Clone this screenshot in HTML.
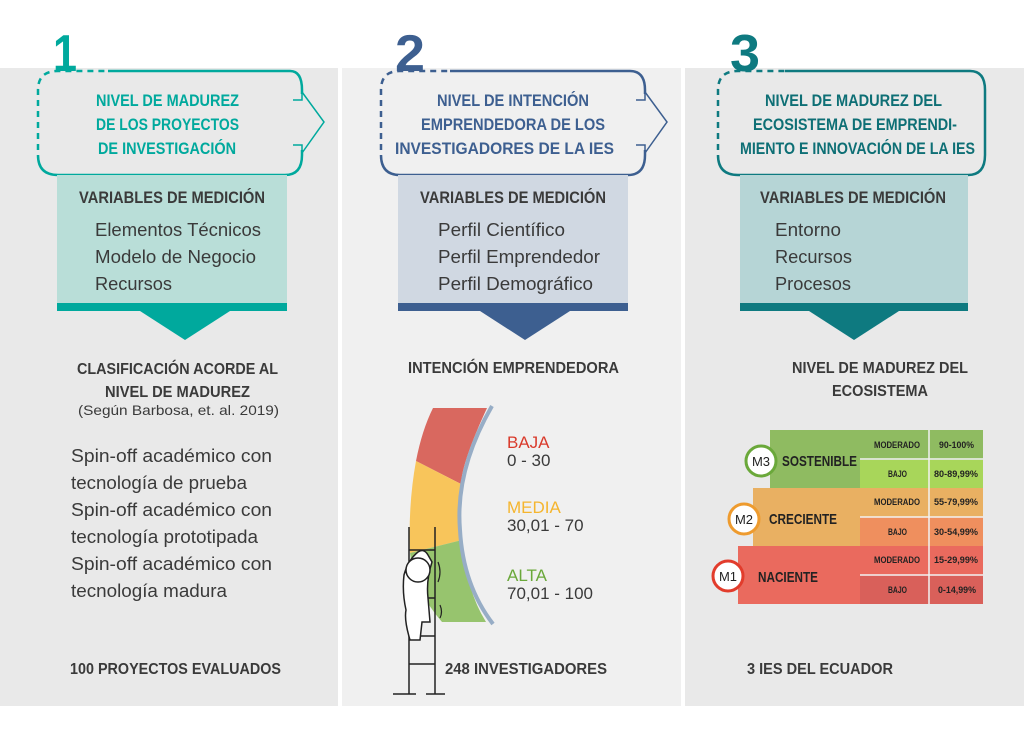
<!DOCTYPE html>
<html><head><meta charset="utf-8"><style>
html,body{margin:0;padding:0;background:#fff}
svg{display:block}
.n{font-family:"Liberation Sans",sans-serif;font-weight:bold}
.m{font-family:"Liberation Sans",sans-serif;font-weight:bold}
.r{font-family:"Liberation Sans",sans-serif}
</style></head><body>
<svg width="1024" height="744" viewBox="0 0 1024 744" xmlns="http://www.w3.org/2000/svg">
<rect x="0" y="68" width="338" height="638" fill="#e9e9e9"/>
<rect x="342" y="68" width="339" height="638" fill="#f0f0f0"/>
<rect x="685" y="68" width="339" height="638" fill="#e9e9e9"/>

<!-- Column 1 -->
<text x="53" y="71" class="n" font-size="52" fill="#00a99d" textLength="24" lengthAdjust="spacingAndGlyphs">1</text>
<path d="M108 71 H290 Q302 71 302 90 V155 Q302 175 285 175 H58 Q38 175 38 155" fill="none" stroke="#00a99d" stroke-width="2.5"/>
<path d="M38 150 V90 Q38 71 58 71 H108" fill="none" stroke="#00a99d" stroke-width="2.5" stroke-dasharray="6,5"/>
<rect x="290" y="94" width="14" height="56" fill="#e9e9e9"/>
<path d="M302 92 L324 122 L302 153" fill="none" stroke="#00a99d" stroke-width="1.5"/>
<path d="M293 100 H302 V92 M293 145 H302 V153" fill="none" stroke="#00a99d" stroke-width="1.5"/>
<g class="m" font-size="17" fill="#00a99d">
<text x="96" y="106" textLength="143" lengthAdjust="spacingAndGlyphs">NIVEL DE MADUREZ</text><text x="96" y="130" textLength="143" lengthAdjust="spacingAndGlyphs">DE LOS PROYECTOS</text><text x="98" y="154" textLength="138" lengthAdjust="spacingAndGlyphs">DE INVESTIGACIÓN</text></g>
<rect x="57" y="175" width="230" height="128" fill="#b9ded8"/>
<rect x="57" y="303" width="230" height="8" fill="#00a99d"/>
<path d="M140 311 H230 L185 340 Z" fill="#00a99d"/>
<text x="79" y="203" class="m" font-size="17" fill="#3a3a3a" textLength="186" lengthAdjust="spacingAndGlyphs">VARIABLES DE MEDICIÓN</text>
<g class="r" font-size="18" fill="#3a3a3a" lengthAdjust="spacingAndGlyphs"><text x="95" y="236" textLength="166" lengthAdjust="spacingAndGlyphs">Elementos Técnicos</text><text x="95" y="263" textLength="161" lengthAdjust="spacingAndGlyphs">Modelo de Negocio</text><text x="95" y="290" textLength="77" lengthAdjust="spacingAndGlyphs">Recursos</text></g>
<g class="m" font-size="16" fill="#3a3a3a"><text x="77" y="374" textLength="201" lengthAdjust="spacingAndGlyphs">CLASIFICACIÓN ACORDE AL</text><text x="105" y="397" textLength="145" lengthAdjust="spacingAndGlyphs">NIVEL DE MADUREZ</text></g>
<text x="78" y="415" class="r" font-size="14" fill="#3a3a3a" textLength="201" lengthAdjust="spacingAndGlyphs">(Según Barbosa, et. al. 2019)</text>
<g class="r" font-size="18" fill="#3a3a3a"><text x="71" y="462" textLength="201" lengthAdjust="spacingAndGlyphs">Spin-off académico con</text><text x="71" y="489" textLength="176" lengthAdjust="spacingAndGlyphs">tecnología de prueba</text><text x="71" y="516" textLength="201" lengthAdjust="spacingAndGlyphs">Spin-off académico con</text><text x="71" y="543" textLength="187" lengthAdjust="spacingAndGlyphs">tecnología prototipada</text><text x="71" y="570" textLength="201" lengthAdjust="spacingAndGlyphs">Spin-off académico con</text><text x="71" y="597" textLength="156" lengthAdjust="spacingAndGlyphs">tecnología madura</text></g>
<text x="70" y="674" class="m" font-size="16" fill="#3a3a3a" textLength="211" lengthAdjust="spacingAndGlyphs">100 PROYECTOS EVALUADOS</text>

<!-- Column 2 -->
<text x="395" y="71" class="n" font-size="52" fill="#3d5f90" textLength="30" lengthAdjust="spacingAndGlyphs">2</text>
<path d="M450 71 H630 Q645 71 645 90 V155 Q645 175 628 175 H400 Q381 175 381 155" fill="none" stroke="#3d5f90" stroke-width="2.5"/>
<path d="M381 150 V90 Q381 71 400 71 H450" fill="none" stroke="#3d5f90" stroke-width="2.5" stroke-dasharray="6,5"/>
<rect x="633" y="94" width="14" height="56" fill="#f0f0f0"/>
<path d="M645 92 L667 122 L645 153" fill="none" stroke="#3d5f90" stroke-width="1.5"/>
<path d="M636 100 H645 V92 M636 145 H645 V153" fill="none" stroke="#3d5f90" stroke-width="1.5"/>
<g class="m" font-size="17" fill="#3d5f90">
<text x="437" y="106" textLength="152" lengthAdjust="spacingAndGlyphs">NIVEL DE INTENCIÓN</text><text x="421" y="130" textLength="184" lengthAdjust="spacingAndGlyphs">EMPRENDEDORA DE LOS</text><text x="395" y="154" textLength="219" lengthAdjust="spacingAndGlyphs">INVESTIGADORES DE LA IES</text></g>
<rect x="398" y="175" width="230" height="128" fill="#d0d8e2"/>
<rect x="398" y="303" width="230" height="8" fill="#3d5f90"/>
<path d="M480 311 H570 L525 340 Z" fill="#3d5f90"/>
<text x="420" y="203" class="m" font-size="17" fill="#3a3a3a" textLength="186" lengthAdjust="spacingAndGlyphs">VARIABLES DE MEDICIÓN</text>
<g class="r" font-size="18" fill="#3a3a3a"><text x="438" y="236" textLength="127" lengthAdjust="spacingAndGlyphs">Perfil Científico</text><text x="438" y="263" textLength="162" lengthAdjust="spacingAndGlyphs">Perfil Emprendedor</text><text x="438" y="290" textLength="155" lengthAdjust="spacingAndGlyphs">Perfil Demográfico</text></g>
<text x="408" y="373" class="m" font-size="16" fill="#3a3a3a" textLength="211" lengthAdjust="spacingAndGlyphs">INTENCIÓN EMPRENDEDORA</text>
<!-- gauge -->
<path d="M433 408 L487 408 Q462 462 461 484 L416 461 Q422 430 433 408 Z" fill="#d9685f"/>
<path d="M416 461 L461 484 Q460 515 462 540 L410 553 Q408 505 416 461 Z" fill="#f8c55b"/>
<path d="M410 553 L462 540 Q466 590 486 622 L442 622 Q414 590 410 553 Z" fill="#97c46e"/>
<path d="M492 406 Q455 470 460 530 Q463 585 493 624" fill="none" stroke="#97adc6" stroke-width="4"/>
<g class="r" font-size="17"><text x="507" y="448" fill="#d93a2b">BAJA</text><text x="507" y="466" fill="#3a3a3a">0 - 30</text>
<text x="507" y="513" fill="#f5b52e">MEDIA</text><text x="507" y="531" fill="#3a3a3a">30,01 - 70</text>
<text x="507" y="581" fill="#6aa83a">ALTA</text><text x="507" y="599" fill="#3a3a3a">70,01 - 100</text></g>
<!-- ladder + person -->
<g stroke="#222" stroke-width="1.5" fill="none">
<path d="M409 527 V694 M435 527 V694 M409 550 H435 M409 598 H435 M409 636 H435 M409 664 H435 M393 694 H416 M426 694 H445"/>
</g>
<path d="M418 552 Q424 548 428 555 L432 562 Q426 580 428 598 L430 622 L422 622 L420 640 L410 640 Q404 620 406 610 Q402 592 404 575 Q408 560 418 552 Z" fill="#fff" stroke="#222" stroke-width="1.5"/>
<circle cx="418" cy="570" r="12" fill="#fff" stroke="#222" stroke-width="1.5"/>
<path d="M438 562 Q442 572 438 582 M440 605 Q443 612 440 618" stroke="#222" stroke-width="1.2" fill="none"/>
<text x="445" y="674" class="m" font-size="16" fill="#3a3a3a" textLength="162" lengthAdjust="spacingAndGlyphs">248 INVESTIGADORES</text>

<!-- Column 3 -->
<text x="730" y="71" class="n" font-size="52" fill="#0e7a80" textLength="30" lengthAdjust="spacingAndGlyphs">3</text>
<path d="M785 71 H970 Q985 71 985 90 V155 Q985 175 968 175 H738 Q718 175 718 155" fill="none" stroke="#0e7a80" stroke-width="2.5"/>
<path d="M718 150 V90 Q718 71 738 71 H785" fill="none" stroke="#0e7a80" stroke-width="2.5" stroke-dasharray="6,5"/>
<g class="m" font-size="17" fill="#0e6f75">
<text x="765" y="106" textLength="177" lengthAdjust="spacingAndGlyphs">NIVEL DE MADUREZ DEL</text><text x="753" y="130" textLength="204" lengthAdjust="spacingAndGlyphs">ECOSISTEMA DE EMPRENDI-</text><text x="740" y="154" textLength="235" lengthAdjust="spacingAndGlyphs">MIENTO E INNOVACIÓN DE LA IES</text></g>
<rect x="740" y="175" width="228" height="128" fill="#b6d5d6"/>
<rect x="740" y="303" width="228" height="8" fill="#0e7a80"/>
<path d="M809 311 H899 L854 340 Z" fill="#0e7a80"/>
<text x="760" y="203" class="m" font-size="17" fill="#3a3a3a" textLength="186" lengthAdjust="spacingAndGlyphs">VARIABLES DE MEDICIÓN</text>
<g class="r" font-size="18" fill="#3a3a3a"><text x="775" y="236" textLength="66" lengthAdjust="spacingAndGlyphs">Entorno</text><text x="775" y="263" textLength="77" lengthAdjust="spacingAndGlyphs">Recursos</text><text x="775" y="290" textLength="76" lengthAdjust="spacingAndGlyphs">Procesos</text></g>
<g class="m" font-size="16" fill="#3a3a3a"><text x="792" y="373" textLength="176" lengthAdjust="spacingAndGlyphs">NIVEL DE MADUREZ DEL</text><text x="832" y="396" textLength="96" lengthAdjust="spacingAndGlyphs">ECOSISTEMA</text></g>
<!-- table -->
<rect x="770" y="430" width="213" height="58" fill="#8fbb61"/>
<rect x="860" y="460" width="123" height="28" fill="#a8d65a"/>
<rect x="753" y="488" width="230" height="58" fill="#e9b062"/>
<rect x="860" y="517" width="123" height="29" fill="#ef8f5e"/>
<rect x="738" y="546" width="245" height="58" fill="#ea6a5e"/>
<rect x="860" y="575" width="123" height="29" fill="#d9605a"/>
<g stroke="#f2f2f2" stroke-width="1.5"><path d="M929 430 V604 M860 459 H983 M860 517 H983 M860 575 H983"/></g>
<g class="m" font-size="9" fill="#222">
<text x="874" y="448" textLength="46" lengthAdjust="spacingAndGlyphs">MODERADO</text><text x="888" y="477" textLength="19" lengthAdjust="spacingAndGlyphs">BAJO</text><text x="874" y="505" textLength="46" lengthAdjust="spacingAndGlyphs">MODERADO</text><text x="888" y="535" textLength="19" lengthAdjust="spacingAndGlyphs">BAJO</text><text x="874" y="563" textLength="46" lengthAdjust="spacingAndGlyphs">MODERADO</text><text x="888" y="593" textLength="19" lengthAdjust="spacingAndGlyphs">BAJO</text>
<text x="939" y="448" textLength="35" lengthAdjust="spacingAndGlyphs">90-100%</text><text x="934" y="477" textLength="44" lengthAdjust="spacingAndGlyphs">80-89,99%</text><text x="934" y="505" textLength="44" lengthAdjust="spacingAndGlyphs">55-79,99%</text><text x="934" y="535" textLength="44" lengthAdjust="spacingAndGlyphs">30-54,99%</text><text x="934" y="563" textLength="44" lengthAdjust="spacingAndGlyphs">15-29,99%</text><text x="938" y="593" textLength="38" lengthAdjust="spacingAndGlyphs">0-14,99%</text></g>
<g class="r" font-size="13" fill="#222" text-anchor="middle">
<circle cx="761" cy="461" r="15" fill="#fff" stroke="#6aa83a" stroke-width="3"/><text x="761" y="466">M3</text>
<circle cx="744" cy="519" r="15" fill="#fff" stroke="#ee9b2e" stroke-width="3"/><text x="744" y="524">M2</text>
<circle cx="728" cy="576" r="15" fill="#fff" stroke="#e23c2c" stroke-width="3"/><text x="728" y="581">M1</text></g>
<g class="m" font-size="15" fill="#222"><text x="782" y="466" textLength="75" lengthAdjust="spacingAndGlyphs">SOSTENIBLE</text><text x="769" y="524" textLength="68" lengthAdjust="spacingAndGlyphs">CRECIENTE</text><text x="758" y="582" textLength="60" lengthAdjust="spacingAndGlyphs">NACIENTE</text></g>
<text x="747" y="674" class="m" font-size="16" fill="#3a3a3a" textLength="146" lengthAdjust="spacingAndGlyphs">3 IES DEL ECUADOR</text>
</svg>
</body></html>
